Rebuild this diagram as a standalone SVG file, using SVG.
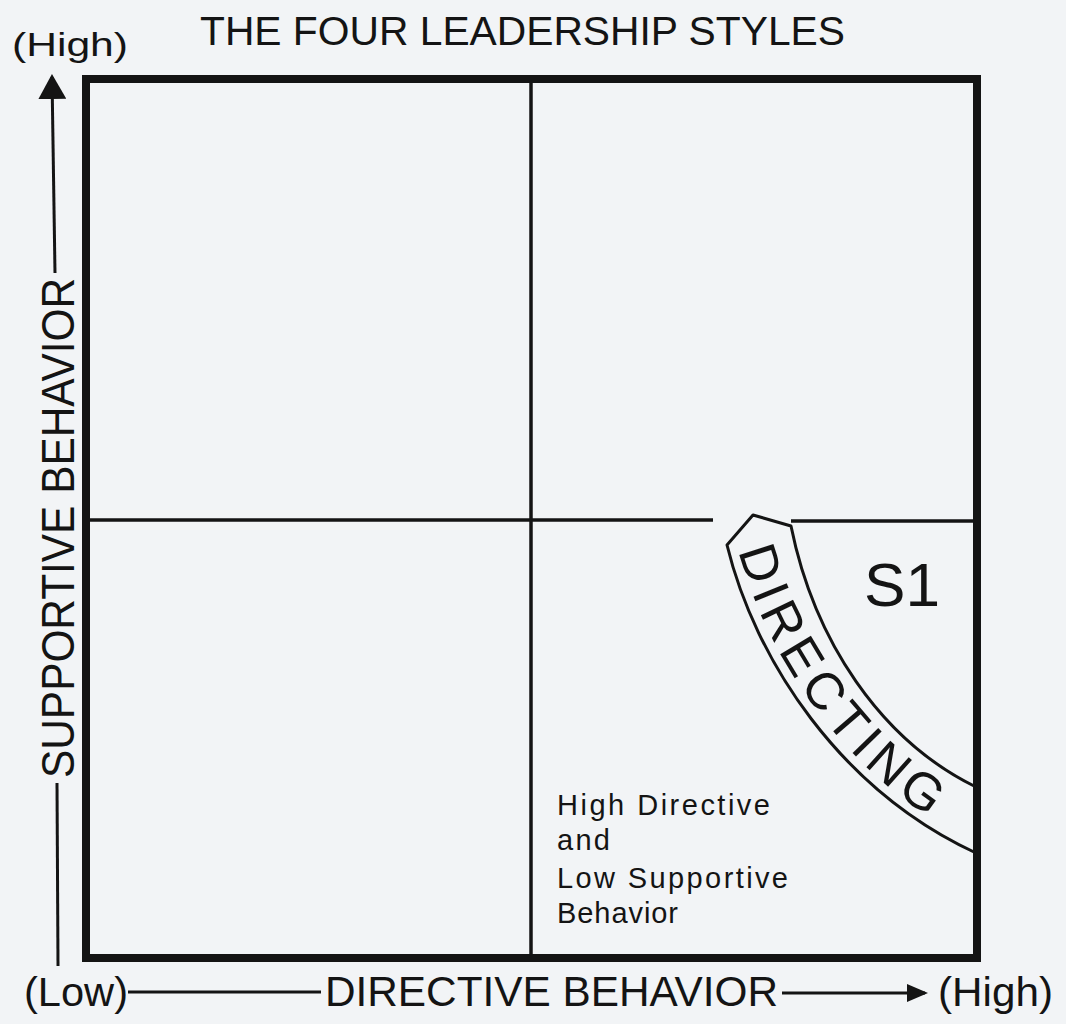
<svg xmlns="http://www.w3.org/2000/svg" width="1066" height="1024" viewBox="0 0 1066 1024">
  <style>
    .t { font-family: "Liberation Sans", Arial, sans-serif; fill: #141414; }
    .axis { stroke: #141414; stroke-width: 3; fill: none; }
    .div { stroke: #141414; stroke-width: 3.5; fill: none; }
    .band { stroke: #141414; stroke-width: 3; fill: none; stroke-linejoin: round; }
  </style>
  <defs>
    <marker id="arrowV" markerUnits="userSpaceOnUse" markerWidth="26" markerHeight="28" refX="22" refY="14" orient="auto">
      <path d="M0,0 L25,14 L0,28 Z" fill="#141414"/>
    </marker>
    <marker id="arrowH" markerUnits="userSpaceOnUse" markerWidth="22" markerHeight="18" refX="18" refY="9" orient="auto">
      <path d="M0,0 L21,9 L0,18 Z" fill="#141414"/>
    </marker>
    <path id="dirPath" d="M737,545 C765,657 848,782 976,844"/>
  </defs>

  <rect x="0" y="0" width="1066" height="1024" fill="#f2f4f6"/>

  <g id="title">
    <text class="t" x="200" y="45" font-size="40" textLength="645" lengthAdjust="spacingAndGlyphs">THE FOUR LEADERSHIP STYLES</text>
  </g>

  <g id="grid">
    <rect x="86" y="79" width="891" height="879" fill="none" stroke="#141414" stroke-width="8"/>
    <line class="div" x1="531" y1="80" x2="531" y2="958"/>
    <line class="div" x1="88" y1="520" x2="713" y2="520"/>
    <line class="div" x1="791" y1="521" x2="975" y2="521"/>
  </g>

  <g id="connectors">
    <line class="axis" x1="58" y1="966" x2="57" y2="783"/>
    <line class="axis" x1="55" y1="273" x2="52" y2="77" marker-end="url(#arrowV)"/>
    <line class="axis" x1="128" y1="992" x2="321" y2="992"/>
    <line class="axis" x1="782" y1="993" x2="925" y2="993" marker-end="url(#arrowH)"/>
  </g>

  <g id="axis-labels">
    <text class="t" x="12" y="56" font-size="34" textLength="116" lengthAdjust="spacingAndGlyphs">(High)</text>
    <text class="t" font-size="46" text-anchor="middle" transform="translate(74,528) rotate(-90)" textLength="500" lengthAdjust="spacingAndGlyphs">SUPPORTIVE BEHAVIOR</text>
    <text class="t" x="24" y="1006" font-size="40" textLength="104" lengthAdjust="spacingAndGlyphs">(Low)</text>
    <text class="t" x="325" y="1006" font-size="42" textLength="453" lengthAdjust="spacingAndGlyphs">DIRECTIVE BEHAVIOR</text>
    <text class="t" x="938" y="1006" font-size="40" textLength="115" lengthAdjust="spacingAndGlyphs">(High)</text>
  </g>

  <g id="s1-directing">
    <path class="band" d="M976,853 C840,790 755,660 727,545 L753,515 L791,526 C814,640 880,740 976,787"/>
    <text class="t" font-size="52" letter-spacing="6"><textPath href="#dirPath" startOffset="6">DIRECTING</textPath></text>
    <text class="t" x="864" y="606" font-size="61" textLength="76" lengthAdjust="spacingAndGlyphs">S1</text>
    <text class="t" font-size="29">
      <tspan x="557" y="815" textLength="213">High Directive</tspan>
      <tspan x="557" y="850" textLength="53">and</tspan>
      <tspan x="557" y="888" textLength="231">Low Supportive</tspan>
      <tspan x="557" y="923" textLength="121">Behavior</tspan>
    </text>
  </g>
</svg>
